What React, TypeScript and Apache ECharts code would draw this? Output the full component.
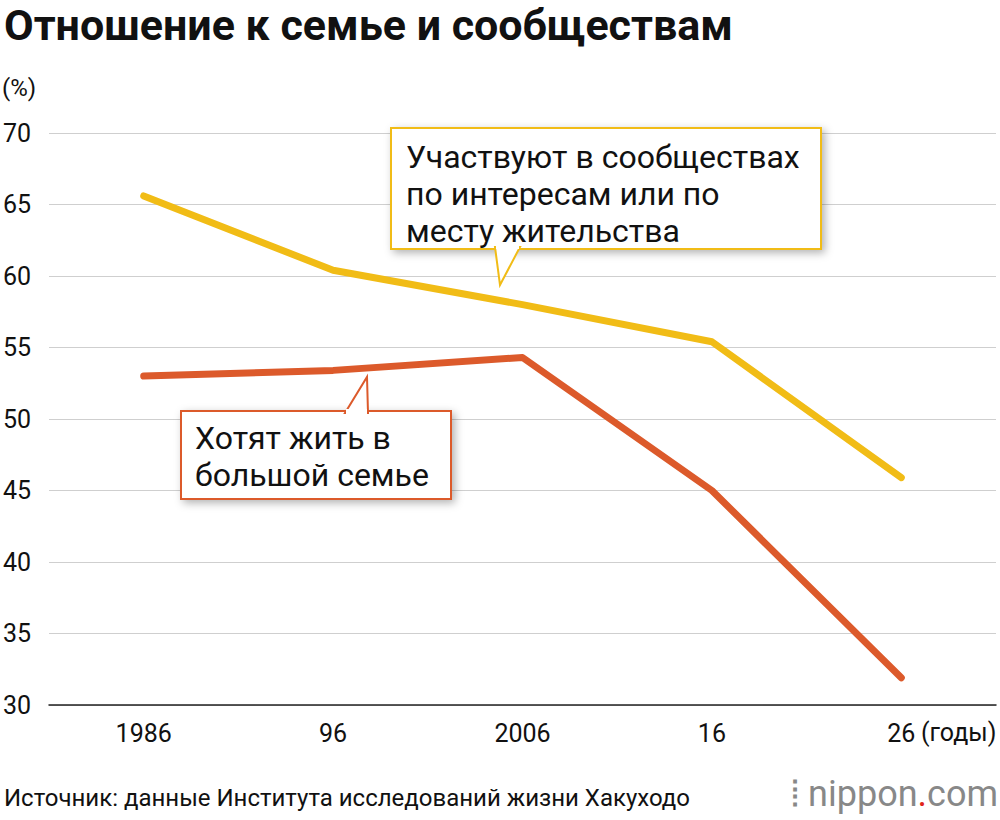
import * as echarts from "echarts";
import { useEffect, useRef } from "react";

const years = ["1986", "96", "2006", "16", "26"];
const community = [65.6, 60.4, 58.0, 55.4, 45.9];
const bigFamily = [53.0, 53.4, 54.3, 45.0, 31.9];

const YELLOW = "#f1bc16";
const ORANGE = "#dc5a2b";
const FONT = "Roboto, 'Noto Sans', sans-serif";

export default function App() {
	const chartRef = useRef<HTMLDivElement>(null);

	useEffect(() => {
		document.body.style.margin = "0";
		if (!chartRef.current) return;
		const chart = echarts.init(chartRef.current, null, { renderer: "svg" });
		chart.setOption({
			animation: false,
			textStyle: { fontFamily: FONT },
			grid: { left: 46, right: 4, top: 133, bottom: 115 },
			xAxis: {
				type: "category",
				data: years,
				boundaryGap: true,
				axisLine: { lineStyle: { color: "#222", width: 1.5 } },
				axisTick: { alignWithLabel: true, length: 14, inside: true, lineStyle: { color: "#bbb" } },
				axisLabel: { color: "#111", fontSize: 25, margin: 16 },
			},
			yAxis: {
				type: "value",
				min: 30,
				max: 70,
				interval: 5,
				axisLine: { show: false },
				axisTick: { show: false },
				axisLabel: { color: "#111", fontSize: 25, margin: 46, align: "left" },
				splitLine: { lineStyle: { color: "#cfcfcf", width: 1 } },
			},
			series: [
				{
					type: "line",
					data: community,
					symbol: "none",
					lineStyle: { color: YELLOW, width: 7, cap: "round", join: "round" },
				},
				{
					type: "line",
					data: bigFamily,
					symbol: "none",
					lineStyle: { color: ORANGE, width: 7, cap: "round", join: "round" },
				},
			],
			graphic: [
				{
					type: "text",
					left: 4,
					top: 3,
					style: { text: "Отношение к семье и сообществам", font: `bold 43px ${FONT}`, fill: "#111" },
				},
				{
					type: "text",
					left: 2,
					top: 76,
					style: { text: "(%)", font: `24px ${FONT}`, fill: "#111" },
				},
				{
					type: "text",
					left: 921,
					top: 720,
					style: { text: "(годы)", font: `25px ${FONT}`, fill: "#111" },
				},
				{
					type: "rect",
					shape: { x: 391, y: 128, width: 430, height: 121 },
					style: { fill: "#fff", stroke: YELLOW, lineWidth: 2, shadowBlur: 8, shadowOffsetX: 3, shadowOffsetY: 3, shadowColor: "rgba(0,0,0,0.3)" },
					z: 10,
				},
				{
					type: "polygon",
					shape: { points: [[495, 247], [520, 247], [500, 285]] },
					style: { fill: "#fff", stroke: YELLOW, lineWidth: 2 },
					z: 11,
				},
				{
					type: "rect",
					shape: { x: 496, y: 244, width: 23, height: 5 },
					style: { fill: "#fff" },
					z: 12,
				},
				{
					type: "text",
					x: 406,
					y: 138,
					style: {
						text: "Участвуют в сообществах\nпо интересам или по\nместу жительства",
						font: `32px ${FONT}`,
						lineHeight: 37,
						fill: "#111",
					},
					z: 13,
				},
				{
					type: "rect",
					shape: { x: 181, y: 411, width: 270, height: 88 },
					style: { fill: "#fff", stroke: ORANGE, lineWidth: 2, shadowBlur: 8, shadowOffsetX: 3, shadowOffsetY: 3, shadowColor: "rgba(0,0,0,0.3)" },
					z: 10,
				},
				{
					type: "polygon",
					shape: { points: [[345, 413], [368, 413], [367, 377]] },
					style: { fill: "#fff", stroke: ORANGE, lineWidth: 2 },
					z: 11,
				},
				{
					type: "rect",
					shape: { x: 346, y: 409, width: 21, height: 5 },
					style: { fill: "#fff" },
					z: 12,
				},
				{
					type: "text",
					x: 195,
					y: 419,
					style: {
						text: "Хотят жить в\nбольшой семье",
						font: `32px ${FONT}`,
						lineHeight: 37,
						fill: "#111",
					},
					z: 13,
				},
				{
					type: "text",
					left: 4,
					top: 786,
					style: { text: "Источник: данные Института исследований жизни Хакуходо", font: `24px ${FONT}`, fill: "#111" },
				},
				{
					type: "text",
					right: 2,
					top: 776,
					style: {
						text: "{g|⦙ nippon}{r|.}{g|com}",
						rich: {
							g: { fontSize: 36, fontFamily: FONT, fill: "#888" },
							r: { fontSize: 36, fontFamily: FONT, fill: "#e0251b" },
						},
					},
				},
			],
		});
		return () => chart.dispose();
	}, []);

	return <div ref={chartRef} style={{ width: 1000, height: 820 }} />;
}
